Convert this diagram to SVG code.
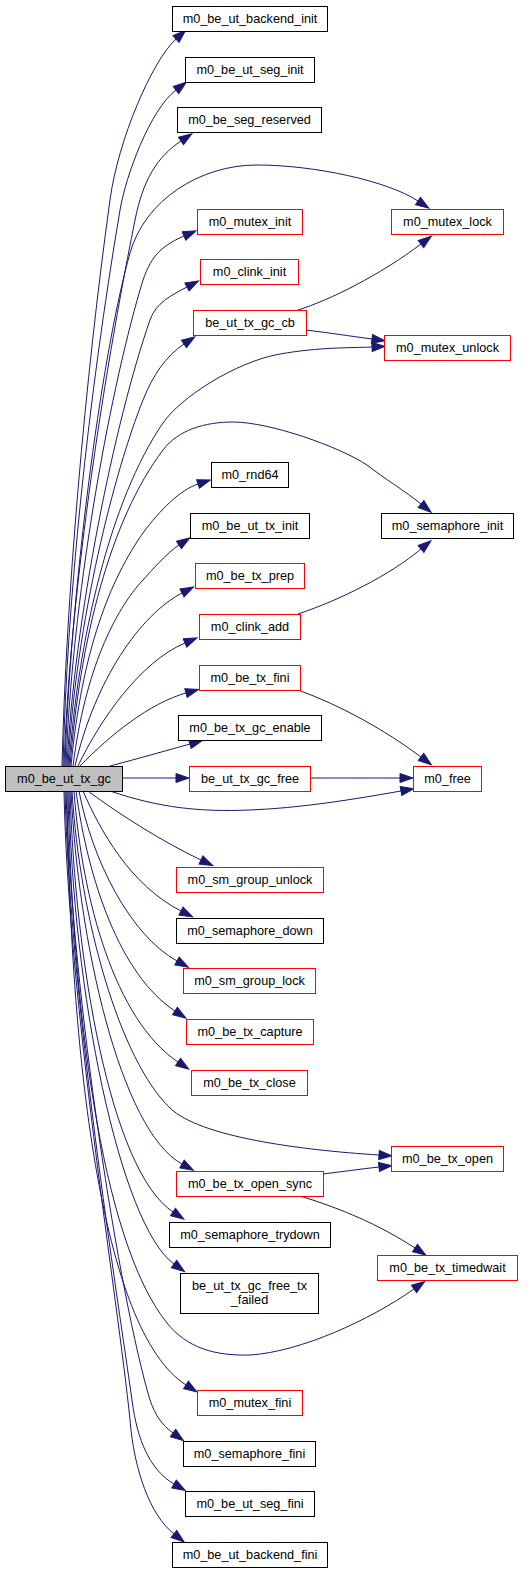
<svg xmlns="http://www.w3.org/2000/svg" width="532" height="1573" viewBox="0 0 532 1573">
<style>
.n rect{fill:#ffffff;stroke:#000000;stroke-width:1}
.n.r rect{stroke:#ff0000}
.n.root rect{fill:#bfbfbf;stroke:#000000}
.n text{font-family:"Liberation Sans",Arial,sans-serif;font-size:12.7px;fill:#000000;text-anchor:middle}
.e path{fill:none;stroke:#191970;stroke-width:1;marker-end:url(#ah)}
</style>
<defs>
<marker id="ah" markerUnits="userSpaceOnUse" markerWidth="14" markerHeight="10" refX="0" refY="4.5" orient="auto" viewBox="0 0 14 10" overflow="visible">
<path d="M0,0 L13,4.5 L0,9 z" fill="#191970" stroke="#191970" stroke-width="1"/>
</marker>
</defs>
<rect width="532" height="1573" fill="#ffffff"/>
<g id="edges" class="e">
<path d="M62,766 C66,600 85,380 110,200 C118,140 152,61 176,39"/>
<path d="M63,766 C67,600 88,400 120,210 C126,175 150,110 176,90"/>
<path d="M64,766 C69,620 95,420 135,220 C143,180 157,157 181,141"/>
<path d="M65,766 C70,600 100,360 130,253 C145,200 200,165 257,165 C314,165 388,181 418,201"/>
<path d="M66,766 C72,600 108,400 140,290 C148,262 156,248 184,236"/>
<path d="M67,766 C74,620 115,420 150,320 C156,303 170,296 187,287"/>
<path d="M68,766 C76,620 115,470 143,400 C153,375 166,356 184,344"/>
<path d="M69,766 C78,640 110,500 163,423 C180,398 235,362 280,354 C320,347 350,348 372,347"/>
<path d="M298,310 C330,300 380,275 421,244"/>
<path d="M306,330 C330,333 350,336 372,339"/>
<path d="M70,766 C80,640 110,520 163,450 C178,430 205,422 233,422 C270,422 340,447 367,465 C385,479 405,491 421,504"/>
<path d="M71,766 C82,650 110,580 143,533 C160,510 180,490 198,484"/>
<path d="M73,766 C85,670 115,610 143,580 C152,570 167,553 179,545"/>
<path d="M75,766 C95,680 140,615 182,593"/>
<path d="M298,614 C340,600 390,575 421,549"/>
<path d="M78,766 C100,720 140,662 185,643"/>
<path d="M80,766 C110,735 150,703 186,693"/>
<path d="M110,766 C140,758 165,751 190,744"/>
<path d="M122,778 L176,778"/>
<path d="M310,778 L400,778"/>
<path d="M298,690 C340,705 385,730 421,757"/>
<path d="M110,791 C160,808 200,812 250,810 C300,808 350,800 401,791"/>
<path d="M88,791 C120,815 165,843 201,860"/>
<path d="M83,791 C100,830 130,885 181,911"/>
<path d="M79,791 C92,860 130,935 177,961"/>
<path d="M76,791 C88,880 120,975 175,1011"/>
<path d="M74,791 C82,900 115,1020 178,1062"/>
<path d="M72,791 C80,920 120,1060 170,1108 C200,1137 300,1150 379,1155"/>
<path d="M71,791 C78,940 120,1130 182,1164"/>
<path d="M323,1174 C340,1172 360,1169 379,1167"/>
<path d="M300,1196 C340,1208 380,1225 415,1248"/>
<path d="M70,791 C75,960 110,1170 173,1212"/>
<path d="M69,791 C72,990 120,1225 174,1264"/>
<path d="M68,791 C72,1000 100,1240 167,1323 C187,1348 215,1356 250,1355 C300,1352 370,1320 414,1289"/>
<path d="M67,791 C70,1050 100,1330 186,1385"/>
<path d="M66,791 C72,1000 120,1300 150,1400 C155,1415 162,1425 173,1433"/>
<path d="M65,791 C70,1000 118,1300 132,1400 C137,1440 150,1470 174,1484"/>
<path d="M64,791 C68,1000 118,1300 130,1420 C134,1470 150,1515 174,1534"/>
</g>
<g id="node_m0_be_ut_tx_gc" class="n root"><rect x="5.5" y="766.5" width="117" height="25"/><text x="64" y="782.5">m0_be_ut_tx_gc</text></g>
<g id="node_m0_be_ut_backend_init" class="n"><rect x="172.5" y="6.5" width="155" height="25"/><text x="250" y="22.5">m0_be_ut_backend_init</text></g>
<g id="node_m0_be_ut_seg_init" class="n"><rect x="185.5" y="57.5" width="129" height="25"/><text x="250" y="73.5">m0_be_ut_seg_init</text></g>
<g id="node_m0_be_seg_reserved" class="n"><rect x="177.5" y="107.5" width="144" height="25"/><text x="249.5" y="123.5">m0_be_seg_reserved</text></g>
<g id="node_m0_mutex_init" class="n r"><rect x="197.5" y="209.5" width="105" height="25"/><text x="250" y="225.5">m0_mutex_init</text></g>
<g id="node_m0_mutex_lock" class="n r"><rect x="391.5" y="209.5" width="112" height="25"/><text x="447.5" y="225.5">m0_mutex_lock</text></g>
<g id="node_m0_clink_init" class="n r"><rect x="200.5" y="259.5" width="98" height="25"/><text x="249.5" y="275.5">m0_clink_init</text></g>
<g id="node_be_ut_tx_gc_cb" class="n r"><rect x="193.5" y="310.5" width="113" height="25"/><text x="250" y="326.5">be_ut_tx_gc_cb</text></g>
<g id="node_m0_mutex_unlock" class="n r"><rect x="384.5" y="335.5" width="126" height="25"/><text x="447.5" y="351.5">m0_mutex_unlock</text></g>
<g id="node_m0_rnd64" class="n"><rect x="211.5" y="462.5" width="77" height="25"/><text x="250" y="478.5">m0_rnd64</text></g>
<g id="node_m0_be_ut_tx_init" class="n"><rect x="190.5" y="513.5" width="119" height="25"/><text x="250" y="529.5">m0_be_ut_tx_init</text></g>
<g id="node_m0_semaphore_init" class="n"><rect x="381.5" y="513.5" width="132" height="25"/><text x="447.5" y="529.5">m0_semaphore_init</text></g>
<g id="node_m0_be_tx_prep" class="n r"><rect x="195.5" y="563.5" width="109" height="25"/><text x="250" y="579.5">m0_be_tx_prep</text></g>
<g id="node_m0_clink_add" class="n r"><rect x="199.5" y="614.5" width="101" height="25"/><text x="250" y="630.5">m0_clink_add</text></g>
<g id="node_m0_be_tx_fini" class="n r"><rect x="199.5" y="665.5" width="101" height="25"/><text x="250" y="681.5">m0_be_tx_fini</text></g>
<g id="node_m0_be_tx_gc_enable" class="n"><rect x="178.5" y="715.5" width="143" height="25"/><text x="250" y="731.5">m0_be_tx_gc_enable</text></g>
<g id="node_be_ut_tx_gc_free" class="n r"><rect x="189.5" y="766.5" width="121" height="25"/><text x="250" y="782.5">be_ut_tx_gc_free</text></g>
<g id="node_m0_free" class="n r"><rect x="413.5" y="766.5" width="68" height="25"/><text x="447.5" y="782.5">m0_free</text></g>
<g id="node_m0_sm_group_unlock" class="n r"><rect x="176.5" y="867.5" width="147" height="25"/><text x="250" y="883.5">m0_sm_group_unlock</text></g>
<g id="node_m0_semaphore_down" class="n"><rect x="176.5" y="918.5" width="147" height="25"/><text x="250" y="934.5">m0_semaphore_down</text></g>
<g id="node_m0_sm_group_lock" class="n r"><rect x="183.5" y="968.5" width="132" height="25"/><text x="249.5" y="984.5">m0_sm_group_lock</text></g>
<g id="node_m0_be_tx_capture" class="n r"><rect x="186.5" y="1019.5" width="127" height="25"/><text x="250" y="1035.5">m0_be_tx_capture</text></g>
<g id="node_m0_be_tx_close" class="n r"><rect x="191.5" y="1070.5" width="116" height="25"/><text x="249.5" y="1086.5">m0_be_tx_close</text></g>
<g id="node_m0_be_tx_open" class="n r"><rect x="391.5" y="1146.5" width="112" height="25"/><text x="447.5" y="1162.5">m0_be_tx_open</text></g>
<g id="node_m0_be_tx_open_sync" class="n r"><rect x="176.5" y="1171.5" width="147" height="25"/><text x="250" y="1187.5">m0_be_tx_open_sync</text></g>
<g id="node_m0_semaphore_trydown" class="n"><rect x="169.5" y="1222.5" width="161" height="25"/><text x="250" y="1238.5">m0_semaphore_trydown</text></g>
<g id="node_m0_be_tx_timedwait" class="n r"><rect x="377.5" y="1255.5" width="140" height="25"/><text x="447.5" y="1271.5">m0_be_tx_timedwait</text></g>
<g id="node_be_ut_tx_gc_free_tx_failed" class="n"><rect x="180.5" y="1273.5" width="138" height="40"/><text x="249.5" y="1289.5">be_ut_tx_gc_free_tx</text><text x="249.5" y="1303.5">_failed</text></g>
<g id="node_m0_mutex_fini" class="n r"><rect x="197.5" y="1390.5" width="105" height="25"/><text x="250" y="1406.5">m0_mutex_fini</text></g>
<g id="node_m0_semaphore_fini" class="n"><rect x="183.5" y="1441.5" width="132" height="25"/><text x="249.5" y="1457.5">m0_semaphore_fini</text></g>
<g id="node_m0_be_ut_seg_fini" class="n"><rect x="185.5" y="1491.5" width="129" height="25"/><text x="250" y="1507.5">m0_be_ut_seg_fini</text></g>
<g id="node_m0_be_ut_backend_fini" class="n"><rect x="172.5" y="1542.5" width="155" height="25"/><text x="250" y="1558.5">m0_be_ut_backend_fini</text></g>
</svg>
